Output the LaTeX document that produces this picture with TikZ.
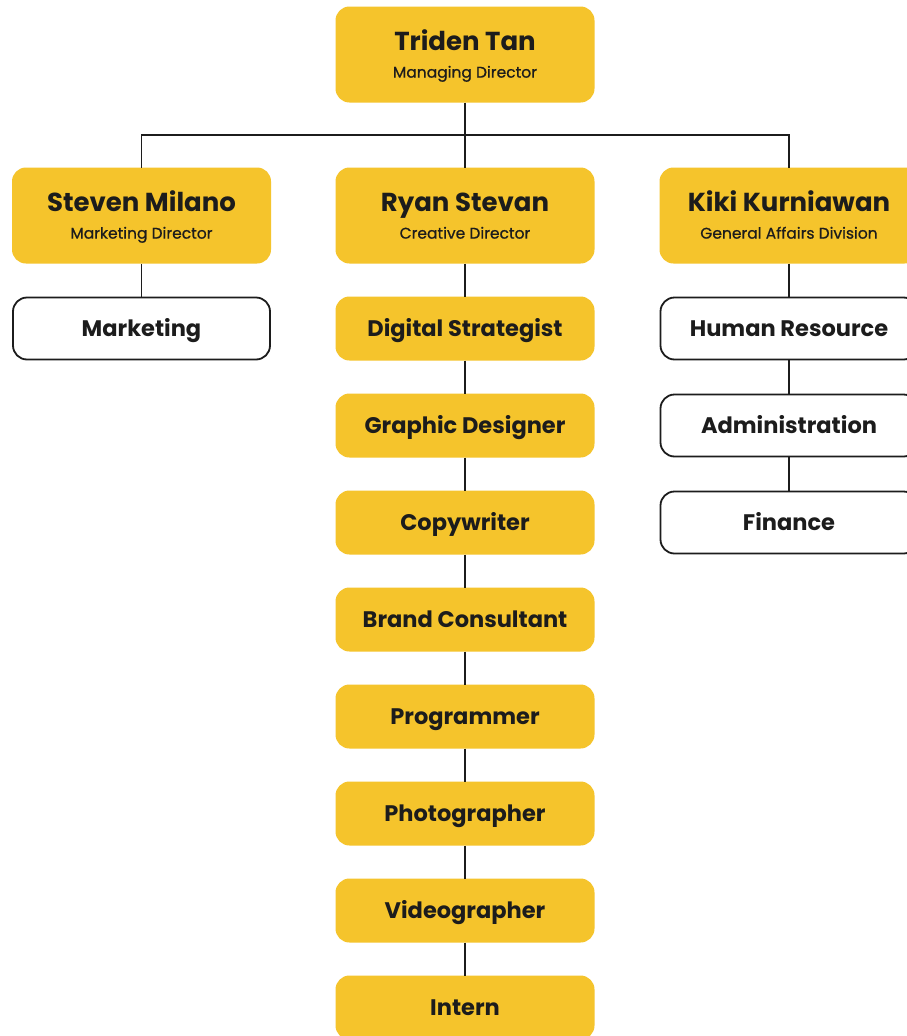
\documentclass[tikz,border=0pt]{standalone}
\usepackage{fontspec}
\setmainfont{Poppins}
\newfontface\subfont{Poppins}[FakeBold=0.8]
\definecolor{boxyellow}{HTML}{F5C42C}
\definecolor{inkdark}{HTML}{1C1C1C}
\begin{document}
\begin{tikzpicture}[x=1pt,y=-1pt,
  every node/.style={inner sep=0pt,outer sep=0pt,text=inkdark},
  headbox/.style={fill=boxyellow,rounded corners=14pt,minimum width=259pt,minimum height=96pt,align=center},
  rolebox/.style={fill=boxyellow,rounded corners=14pt,minimum width=259pt,minimum height=64pt,text height=15.5pt,text depth=0pt,font=\fontsize{22.5}{26}\selectfont\bfseries},
  unitbox/.style={draw=inkdark,line width=1.8pt,fill=white,rounded corners=14pt,minimum width=257pt,minimum height=62pt,text height=15.5pt,text depth=0pt,font=\fontsize{22.5}{26}\selectfont\bfseries},
  link/.style={draw=inkdark,line width=1.8pt}]
\useasboundingbox (0,0) rectangle (907,1036);
\clip (0,0) rectangle (907,1036);
\fill[white] (0,0) rectangle (907,1036);
\newcommand{\headtext}[2]{{\fontsize{26}{30}\selectfont\bfseries\vphantom{Tg}\rule{0pt}{23.5pt}#1}\\[7pt]{\subfont\fontsize{15.5}{18}\selectfont\vphantom{Tg}#2}}
\coordinate (bus) at (465,135);
% heads
\node[headbox] (triden) at (465,54.5) {\headtext{Triden Tan}{Managing Director}};
\node[headbox] (steven) at (141.5,215.5) {\headtext{Steven Milano}{Marketing Director}};
\node[headbox] (ryan) at (465,215.5) {\headtext{Ryan Stevan}{Creative Director}};
\node[headbox] (kiki) at (789,215.5) {\headtext{Kiki Kurniawan}{General Affairs Division}};
% left column
\node[unitbox] (marketing) at (141.5,328.5) {Marketing};
% center column
\node[rolebox] (digital) at (465,328.5) {Digital Strategist};
\node[rolebox] (graphic) at (465,425.5) {Graphic Designer};
\node[rolebox] (copy) at (465,522.5) {Copywriter};
\node[rolebox] (brand) at (465,619.5) {Brand Consultant};
\node[rolebox] (prog) at (465,716.5) {Programmer};
\node[rolebox] (photo) at (465,813.5) {Photographer};
\node[rolebox] (video) at (465,910.5) {Videographer};
\node[rolebox] (intern) at (465,1007.5) {Intern};
% right column
\node[unitbox] (hr) at (789,328.5) {Human Resource};
\node[unitbox] (admin) at (789,425.5) {Administration};
\node[unitbox] (finance) at (789,522.5) {Finance};
% connectors
\draw[link] (triden.south) -- (ryan.north);
\draw[link] (steven.north) -- (steven.north |- bus) -- (kiki.north |- bus) -- (kiki.north);
\draw[link] (steven.south) -- (marketing.north);
\draw[link] (ryan.south) -- (digital.north);
\draw[link] (digital.south) -- (graphic.north);
\draw[link] (graphic.south) -- (copy.north);
\draw[link] (copy.south) -- (brand.north);
\draw[link] (brand.south) -- (prog.north);
\draw[link] (prog.south) -- (photo.north);
\draw[link] (photo.south) -- (video.north);
\draw[link] (video.south) -- (intern.north);
\draw[link] (kiki.south) -- (hr.north);
\draw[link] (hr.south) -- (admin.north);
\draw[link] (admin.south) -- (finance.north);
\end{tikzpicture}
\end{document}
